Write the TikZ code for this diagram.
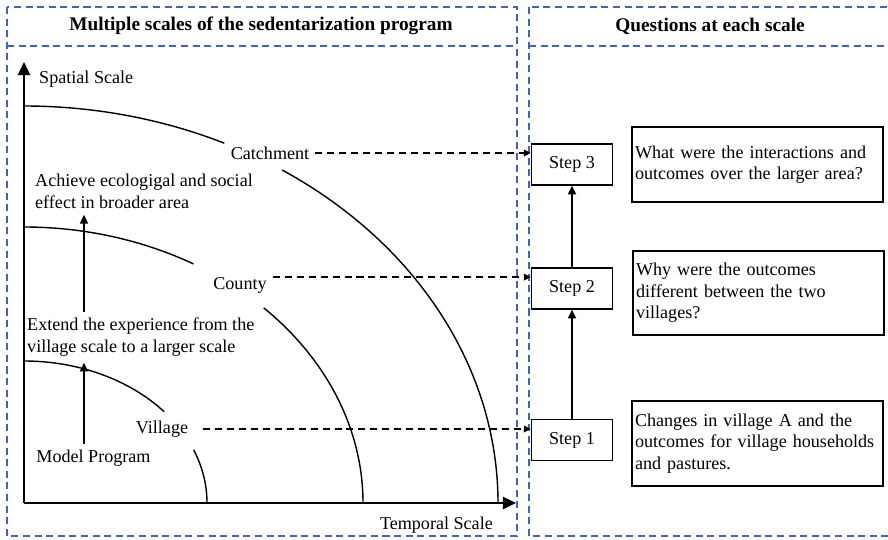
\documentclass[tikz,border=0pt]{standalone}
\usepackage{fontspec}
\setmainfont{Liberation Serif}
\usetikzlibrary{arrows.meta,calc}

\definecolor{panelblue}{RGB}{68,100,178}

\tikzset{
  panel/.style={draw=panelblue, line width=0.85pt, dash pattern=on 4pt off 2.6pt},
  axis/.style={line width=1.1pt, -{Triangle[length=7.5pt,width=7pt]}},
  curve/.style={line width=0.8pt},
  up/.style={line width=0.8pt, -{Triangle[length=5pt,width=4.6pt]}},
  link/.style={line width=0.8pt, dash pattern=on 4pt off 2.8pt, -{Triangle[length=4pt,width=3.8pt]}},
  stepbox/.style={draw, line width=0.8pt, minimum width=1.62cm, minimum height=0.82cm},
  qbox/.style={draw, line width=0.8pt, text width=4.9cm, inner xsep=0.06cm, align=left},
  head/.style={font=\bfseries\fontsize{11}{13}\selectfont}
}

\begin{document}
\begin{tikzpicture}[x=0.02cm, y=-0.02cm, font=\fontsize{10.3}{12.3}\selectfont]
        \useasboundingbox (0,0) rectangle (888,540);

        % Panels
        \draw[panel] (7,7) rectangle (517,536);
        \draw[panel] (7,46) -- (517,46);
        \draw[panel] (529,7) rectangle (892,536);
        \draw[panel] (529,46) -- (892,46);
        \node[head] (lefthead) at (261,26) {Multiple scales of the sedentarization program};
        \node[head] (righthead) at (710,26) {Questions at each scale};

        % Axes
        \coordinate (O) at (24,503);
        \coordinate (ytop) at (24,62);
        \coordinate (xend) at (516,503);
        \draw[axis] (O) -- (ytop);
        \draw[axis] (O) -- (xend);
        \node[anchor=west] (ylabel) at (33,79) {Spatial Scale};
        \node[anchor=east] (xlabel) at (499,525) {Temporal Scale};

        % Scale arcs, left open where the labels sit
        \foreach \a/\b/\s/\e in {183/142/40/22, 339/276/60/45, 474/397/65/57} {
            \draw[curve] (24,{503-\b}) arc[start angle=-90, end angle=-\s, x radius=\a, y radius=\b];
            \draw[curve] ({24+\a*cos(\e)},{503-\b*sin(\e)}) arc[start angle=-\e, end angle=0, x radius=\a, y radius=\b];
        }
        \node (catch) at (270,153) {Catchment};
        \node (county) at (240,285) {County};
        \node (vil) at (162,429) {Village};

        % Steps of the program
        \coordinate (stem) at (84,0);
        \node[anchor=north west, align=left] (achieve) at (29,168) {Achieve ecologigal and social\\effect in broader area};
        \node[anchor=north west, align=left] (extend) at (21,312) {Extend the experience from the\\village scale to a larger scale};
        \node (model) at (93.5,458) {Model Program};
        \draw[up] (model.north -| stem) -- (extend.south -| stem);
        \draw[up] (extend.north -| stem) -- (achieve.south -| stem);

        % Questions
        \node[stepbox] (step3) at (572,164.5) {Step 3};
        \node[stepbox] (step2) at (572,288.5) {Step 2};
        \node[stepbox] (step1) at (572,440) {Step 1};
        \node[qbox, minimum height=1.5cm] (q3) at (757.5,164.5) {What were the interactions and\\outcomes over the larger area?};
        \node[qbox, minimum height=1.68cm] (q2) at (758.5,293) {Why were the outcomes\\different between the two\\villages?};
        \node[qbox, minimum height=1.7cm] (q1) at (757.5,443.5) {Changes in village A and the\\outcomes for village households\\and pastures.};
        \draw[up] (step1) -- (step2);
        \draw[up] (step2) -- (step3);

        % Links between scales and questions
        \draw[link] (catch.east) -- (catch.east -| step3.west);
        \draw[link] ([yshift=4.5pt]county.east) -- ([yshift=4.5pt]county.east -| step2.west);
        \draw[link, shorten <=5pt] (vil.east) -- (vil.east -| step1.west);

    \end{tikzpicture}
\end{document}
